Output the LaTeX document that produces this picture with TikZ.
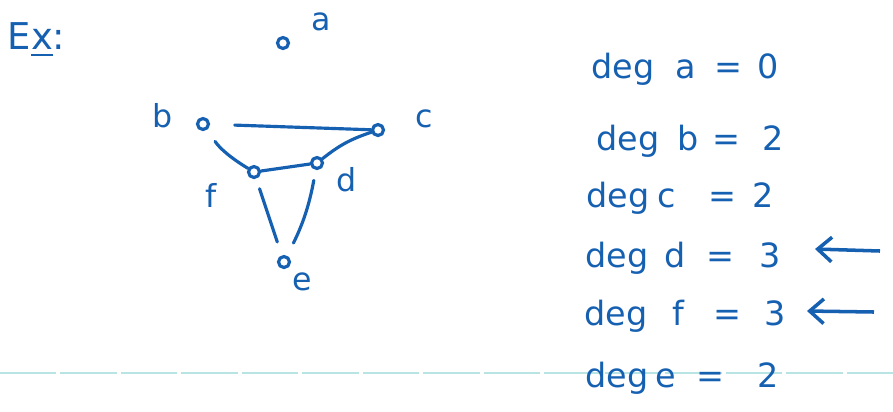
\documentclass[tikz,border=0pt]{standalone}
\usepackage{fontspec}
\setmainfont{DejaVu Sans}
\usetikzlibrary{arrows.meta}
\definecolor{ink}{RGB}{22,96,178}
\definecolor{rule}{RGB}{185,228,228}
\begin{document}
\begin{tikzpicture}[x=0.01cm,y=-0.01cm,
  vtx/.style={draw=ink,circle,line width=0.9pt,minimum size=0.11cm,inner sep=0pt},
  edge/.style={draw=ink,line width=0.9pt,line cap=round},
  lbl/.style={text=ink,font=\fontsize{9}{11}\selectfont,inner sep=0pt},
  eq/.style={text=ink,font=\fontsize{9.5}{11}\selectfont,inner sep=0pt,anchor=base},
  pointer/.style={draw=ink,line width=1pt,-{Straight Barb[length=4pt,width=7pt]}}]
\useasboundingbox (0,0) rectangle (893,411);
% faint ruled line
\coordinate (L1) at (0,373);
\coordinate (L2) at (893,373);
\draw[rule,line width=0.6pt,dash pattern=on 16pt off 1.2pt] (L1) -- (L2);
% title
\node[lbl,anchor=west,font=\fontsize{10.5}{12}\selectfont] (ex) at (7,40) {E\underline{x}:};
% vertices
\node[vtx] (a) at (283,43) {};
\node[vtx] (b) at (203,124) {};
\node[vtx] (c) at (378,130) {};
\node[vtx] (d) at (317,163) {};
\node[vtx] (f) at (254,172) {};
\node[vtx] (e) at (284,262) {};
% labels
\node[lbl] (la) at (321,22) {a};
\node[lbl] (lb) at (163,116) {b};
\node[lbl] (lc) at (424,119) {c};
\node[lbl] (ld) at (347,180) {d};
\node[lbl] (lf) at (211,195) {f};
\node[lbl] (le) at (302,282) {e};
% edges
\draw[edge,shorten <=7pt] (b) -- (c);
\draw[edge,shorten <=4pt] (b) to[bend right=12] (f);
\draw[edge] (f) -- (d);
\draw[edge] (d) to[bend left=10] (c);
\draw[edge,shorten <=3pt,shorten >=4pt] (f) -- (e);
\draw[edge,shorten <=3pt,shorten >=4pt] (d) to[bend left=8] (e);
% degree list
\node[eq] (da) at (623,78) {deg};
\node[eq] (xa) at (686,78) {a};
\node[eq] (qa) at (728,78) {=};
\node[eq] (va) at (768,78) {0};
\node[eq] (db) at (628,150) {deg};
\node[eq] (xb) at (688,150) {b};
\node[eq] (qb) at (726,150) {=};
\node[eq] (vb) at (773,150) {2};
\node[eq] (dc) at (618,207) {deg};
\node[eq] (xc) at (667,207) {c};
\node[eq] (qc) at (722,207) {=};
\node[eq] (vc) at (763,207) {2};
\node[eq] (dd) at (617,267) {deg};
\node[eq] (xd) at (675,267) {d};
\node[eq] (qd) at (720,267) {=};
\node[eq] (vd) at (770,267) {3};
\node[eq] (df) at (616,325) {deg};
\node[eq] (xf) at (678,325) {f};
\node[eq] (qf) at (727,325) {=};
\node[eq] (vf) at (775,325) {3};
\node[eq] (de) at (617,387) {deg};
\node[eq] (xe) at (666,387) {e};
\node[eq] (qe) at (710,387) {=};
\node[eq] (ve) at (768,387) {2};
% arrows
\coordinate (p1s) at (880,251);
\coordinate (p1e) at (815,249);
\coordinate (p2s) at (874,312);
\coordinate (p2e) at (807,311);
\draw[pointer] (p1s) -- (p1e);
\draw[pointer] (p2s) -- (p2e);
\end{tikzpicture}
\end{document}
